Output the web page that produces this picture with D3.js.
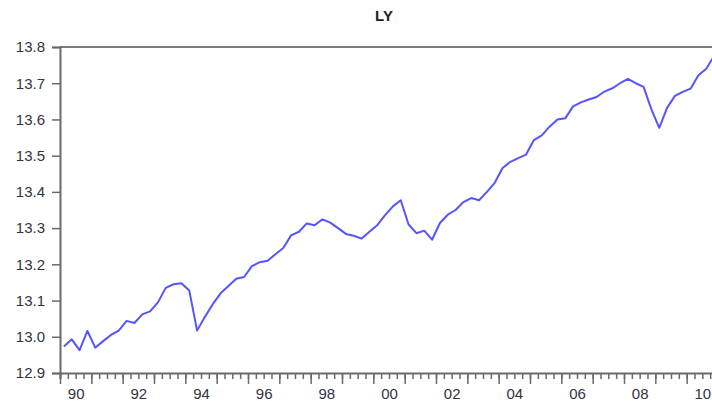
<!DOCTYPE html>
<html>
<head>
<meta charset="utf-8">
<script src="https://cdn.jsdelivr.net/npm/d3@7"></script>
<style>
    body { margin: 0; background: #fff; }
    svg { display: block; font-family: "Liberation Sans", Arial, sans-serif; }
    .axis path, .axis line { stroke: #6a6a6a; }
    .axis text { fill: #33333f; font-size: 15px; }
</style>
</head>
<body>
<div id="chart"></div>
<script>
'use strict';

// Quarterly series LY, 1990Q1 .. 2010Q4
const startYear = 1990;
const ly = [
    12.973, 12.993, 12.963, 13.016, 12.970, 12.988, 13.005, 13.017,
    13.044, 13.038, 13.062, 13.070, 13.095, 13.135, 13.145, 13.148,
    13.128, 13.017, 13.055, 13.090, 13.120, 13.140, 13.160, 13.165,
    13.195, 13.206, 13.210, 13.228, 13.245, 13.280, 13.290, 13.313,
    13.308, 13.324, 13.315, 13.300, 13.284, 13.279, 13.271, 13.290,
    13.308, 13.336, 13.360, 13.377, 13.310, 13.286, 13.293, 13.268,
    13.314, 13.337, 13.350, 13.372, 13.383, 13.377, 13.400, 13.425,
    13.466, 13.483, 13.493, 13.503, 13.543, 13.556, 13.580, 13.600,
    13.603, 13.636, 13.647, 13.655, 13.662, 13.677, 13.686, 13.700,
    13.712, 13.700, 13.690, 13.628, 13.577, 13.632, 13.665, 13.676,
    13.685, 13.722, 13.740, 13.775
];
const yTicks = [12.9, 13.0, 13.1, 13.2, 13.3, 13.4, 13.5, 13.6, 13.7, 13.8];
const labelYears = [1990, 1992, 1994, 1996, 1998, 2000, 2002, 2004, 2006, 2008, 2010];

const width = 712, height = 407;
const margins = { top: 47, right: -6, bottom: 34, left: 60 };

const svg = d3.select('#chart').append('svg')
    .attr('width', width)
    .attr('height', height);

const points = ly.map((v, i) => ({ t: startYear + (i + 0.5) / 4, v }));
const endYear = startYear + ly.length / 4;

const scaleX = d3.scaleLinear()
    .domain([startYear, endYear])
    .range([margins.left, width - margins.right]);

const scaleY = d3.scaleLinear()
    .domain([12.9, 13.8])
    .range([height - margins.bottom, margins.top]);

// Top border
svg.append('line')
    .attr('x1', margins.left).attr('x2', width - margins.right)
    .attr('y1', margins.top).attr('y2', margins.top)
    .attr('stroke', '#7a7a7a').attr('stroke-width', 2);

// Y axis
svg.append('g')
    .classed('axis axis-y', true)
    .attr('transform', `translate(${margins.left}, 0)`)
    .call(d3.axisLeft(scaleY).tickValues(yTicks).tickFormat(d3.format('.1f'))
        .tickSize(8).tickPadding(7))
    .call(g => g.select('.domain').attr('stroke-width', 2))
    .call(g => g.selectAll('.tick line').attr('stroke-width', 1.5));

// X axis: quarter ticks, year ticks, labels at mid-year
const quarters = d3.range(startYear * 4, endYear * 4 + 1).map(q => q / 4);
const years = d3.range(startYear, endYear + 1);
const baseY = height - margins.bottom;

svg.append('g')
    .classed('axis axis-x-minor', true)
    .attr('transform', `translate(0, ${baseY})`)
    .call(d3.axisBottom(scaleX).tickValues(quarters).tickSize(6).tickFormat(''))
    .call(g => g.select('.domain').attr('stroke-width', 2))
    .call(g => g.selectAll('.tick line').attr('stroke-width', 1.5));

svg.append('g')
    .classed('axis axis-x-major', true)
    .attr('transform', `translate(0, ${baseY})`)
    .call(d3.axisBottom(scaleX).tickValues(years).tickSize(11).tickFormat(''))
    .call(g => g.select('.domain').remove())
    .call(g => g.selectAll('.tick line').attr('stroke-width', 1.5));

svg.append('g')
    .classed('axis axis-x-labels', true)
    .attr('transform', `translate(0, ${baseY})`)
    .call(d3.axisBottom(scaleX).tickValues(labelYears.map(y => y + 0.5))
        .tickSize(0).tickPadding(15)
        .tickFormat(d => String(Math.floor(d) % 100).padStart(2, '0')))
    .call(g => g.select('.domain').remove());

// Line
const line = d3.line()
    .x(d => scaleX(d.t))
    .y(d => scaleY(d.v));

svg.append('path')
    .datum(points)
    .attr('fill', 'none')
    .attr('stroke', '#5555ff')
    .attr('stroke-width', 2)
    .attr('stroke-linejoin', 'round')
    .attr('d', line);

// Title
svg.append('text')
    .attr('x', 384)
    .attr('y', 21)
    .attr('text-anchor', 'middle')
    .style('font-size', '15px')
    .style('font-weight', 'bold')
    .style('fill', '#222')
    .text('LY');
</script>
</body>
</html>
